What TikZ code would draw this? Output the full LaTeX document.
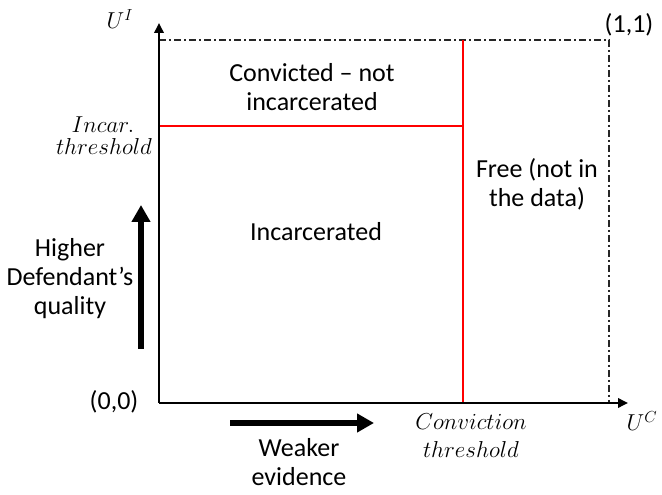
\documentclass[tikz,border=0pt]{standalone}
\usepackage{fontspec}
\setmainfont{Carlito}
\usetikzlibrary{arrows.meta}
\tikzset{
  lbl/.style={inner sep=0pt, align=center, font=\fontsize{19.5}{21.75}\selectfont},
  mlbl/.style={inner sep=0pt, align=center, font=\fontsize{17.5}{17.5}\selectfont},
  axis/.style={line width=1.8pt, -{Triangle[length=7.5pt,width=7pt]}},
  thr/.style={red, line width=0.8pt},
  frame/.style={line width=0.9pt, black!85, dash pattern=on 5.25pt off 2.25pt on 1.5pt off 2.25pt},
  bigarrow/.style={line width=5pt, -{Triangle[length=12.75pt,width=13.5pt]}}
}
\begin{document}
\begin{tikzpicture}[x=0.75pt,y=-0.75pt]
\useasboundingbox (0,0) rectangle (662,495);
% coordinates
\coordinate (O) at (159,403);
\coordinate (Xend) at (628,403);
\coordinate (Yend) at (159,23);
\coordinate (TL) at (159,40);
\coordinate (TR) at (609,40);
\coordinate (BR) at (609,403);
\coordinate (CT) at (463,40);
\coordinate (CB) at (463,403);
\coordinate (IL) at (159,126);
\coordinate (IR) at (463,126);
\coordinate (VA1) at (141,349);
\coordinate (VA2) at (141,205);
\coordinate (HA1) at (230,423);
\coordinate (HA2) at (374,423);
% frame
\draw[frame] (TL) -- (TR) -- (BR);
% thresholds
\draw[thr] (CT) -- (CB);
\draw[thr] (IL) -- (IR);
% axes
\draw[axis] (O) -- (Xend);
\draw[axis] (O) -- (Yend);
% big arrows
\draw[bigarrow] (VA1) -- (VA2);
\draw[bigarrow] (HA1) -- (HA2);
% labels
\node[mlbl] (UI) at (120,19) {$U^I$};
\node[mlbl] (UC) at (642,421) {$U^C$};
\node[lbl] (one) at (629,25) {(1,1)};
\node[lbl] (zero) at (114,402) {(0,0)};
\node[mlbl] (incar) at (103,125) {$Incar.$};
\node[mlbl] (incarthr) at (104,147) {$threshold$};
\node[mlbl] (conv) at (471,422) {$Conviction$};
\node[mlbl] (convthr) at (471,450) {$threshold$};
\node[lbl] (cni) at (312,87) {Convicted -- not\\incarcerated};
\node[lbl] (inc) at (316,232) {Incarcerated};
\node[lbl] (free) at (537,184) {Free (not in\\the data)};
\node[lbl] (high) at (70,279) {Higher\\Defendant’s\\quality};
\node[lbl] (weak) at (299,462) {Weaker\\evidence};
\end{tikzpicture}
\end{document}
